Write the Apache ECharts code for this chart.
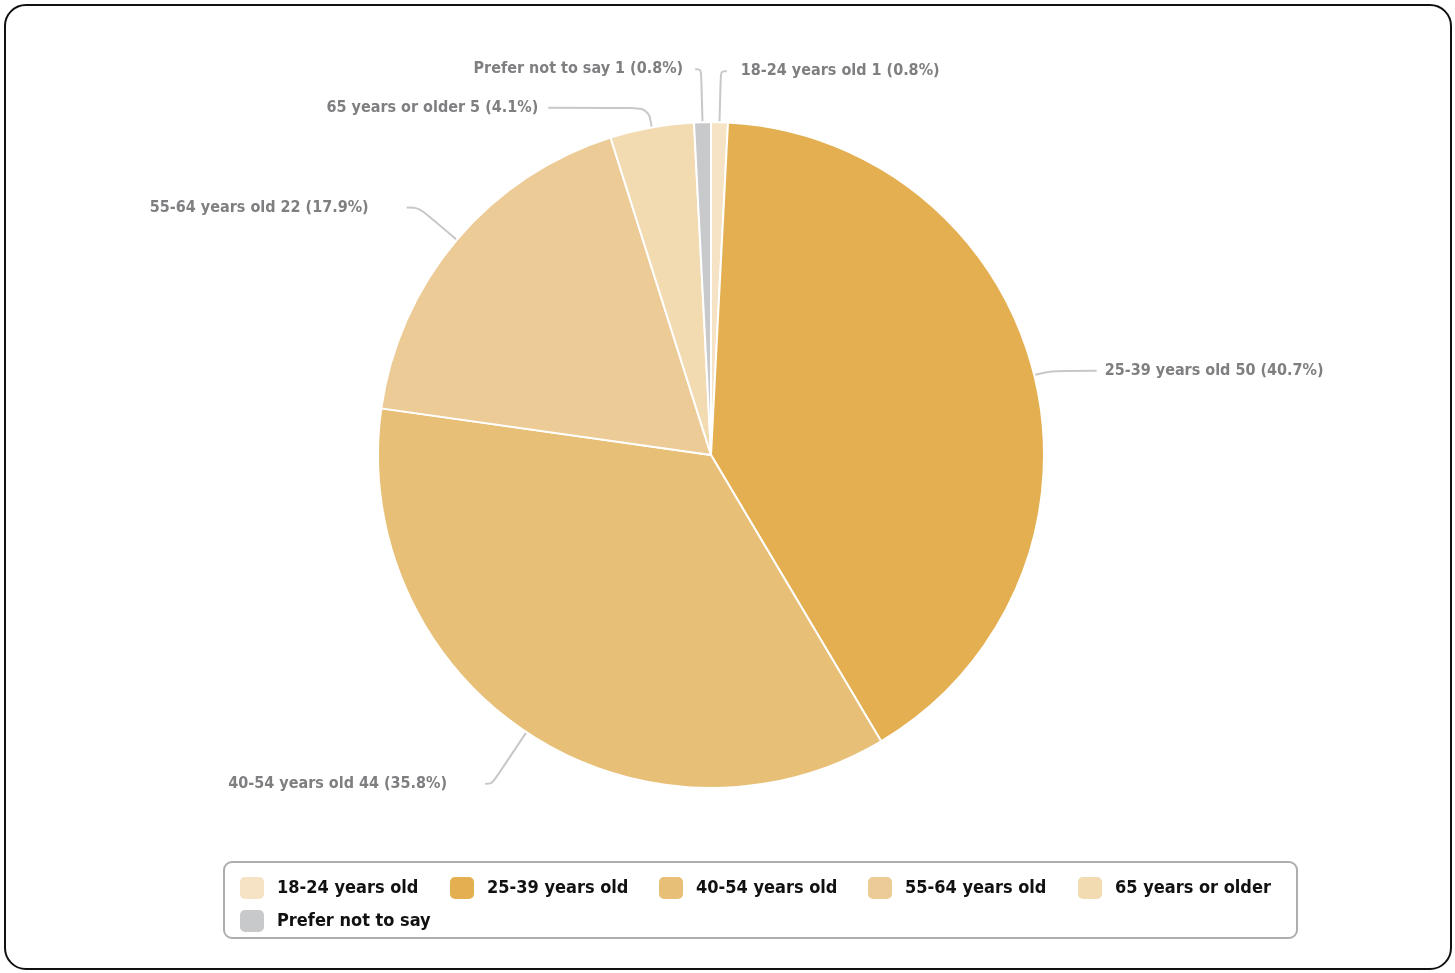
<!DOCTYPE html>
<html><head><meta charset="utf-8">
<script src="https://cdn.jsdelivr.net/npm/echarts@6/dist/echarts.min.js"></script>
<style>
html,body{margin:0;padding:0;background:#fff;}
#frame{position:absolute;left:4px;top:4px;width:1444px;height:962px;border:2px solid #111;border-radius:22px;box-sizing:content-box;}
#chart{position:absolute;left:0;top:0;width:1455px;height:973px;}
</style></head>
<body>
<div id="frame"></div>
<div id="chart"></div>
<script>
const categories = ["18-24 years old","25-39 years old","40-54 years old","55-64 years old","65 years or older","Prefer not to say"];
const values = [1, 50, 44, 22, 5, 1];
const colors = ["#F6E2C5","#E3AF51","#E7BF77","#EDCB96","#F2DAB1","#C8C9CB"];
// label line styling per slice: [length, length2, distanceToLabelLine]
const lineLen = [[51,6,14],[18,45,8],[62,7,38],[50,12,38],[20,100,10],[53,6,12]];
// legend item placement (style only)
const legendPos = [[238,875],[448,875],[657,875],[866,875],[1076,875],[238,908]];
const FONT = "'Liberation Sans Narrow','DejaVu Sans Condensed',sans-serif";
const total = values.reduce((a,b)=>a+b,0);
const chart = echarts.init(document.getElementById('chart'));
chart.setOption({
  animation:false,
  color: colors,
  graphic:[{type:'rect', shape:{x:224,y:862,width:1073,height:76,r:8}, style:{fill:'none', stroke:'#adadad', lineWidth:2}, silent:true}],
  legend: categories.map((c,i)=>({
    data:[c], left:legendPos[i][0], top:legendPos[i][1], padding:0,
    itemWidth:26, itemHeight:24, icon:'roundRect',
    textStyle:{fontFamily:FONT, fontWeight:'bold', fontSize:18, color:'#111', padding:[0,0,0,7]}
  })),
  series:[{
    type:'pie',
    center:[711,455],
    radius:[0,333],
    startAngle:90,
    clockwise:true,
    itemStyle:{borderColor:'#fff', borderWidth:2},
    label:{
      formatter:(p)=>p.name+' '+p.value+' ('+(p.value/total*100).toFixed(1)+'%)',
      fontFamily:FONT, fontWeight:'bold', fontSize:16, color:'#7f7f82'
    },
    labelLine:{smooth:0.35, lineStyle:{color:'#c8c8c8', width:2}},
    emphasis:{disabled:true},
    data: categories.map((c,i)=>({
      name:c, value:values[i],
      label:{distanceToLabelLine:lineLen[i][2]},
      labelLine:{length:lineLen[i][0], length2:lineLen[i][1]}
    }))
  }]
});
</script>
</body></html>
